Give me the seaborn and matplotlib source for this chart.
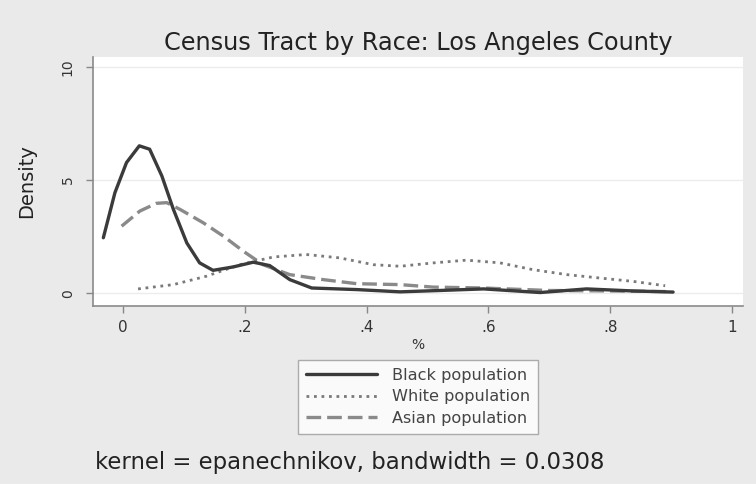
import matplotlib
matplotlib.use('Agg')
import matplotlib.pyplot as plt
from matplotlib.lines import Line2D
import pandas as pd
import seaborn as sns

# values
BLACK_X = [-0.032, -0.013, 0.006, 0.027, 0.044, 0.064, 0.083, 0.105, 0.126, 0.148, 0.181, 0.214,
           0.241, 0.274, 0.310, 0.384, 0.455, 0.520, 0.592, 0.685, 0.761, 0.837, 0.903]
BLACK_Y = [2.45, 4.44, 5.77, 6.51, 6.36, 5.18, 3.70, 2.22, 1.34, 1.01, 1.16, 1.37,
           1.22, 0.60, 0.23, 0.16, 0.06, 0.12, 0.19, 0.03, 0.19, 0.10, 0.05]
WHITE_X = [0.025, 0.083, 0.137, 0.192, 0.247, 0.301, 0.356, 0.411, 0.455, 0.510, 0.564, 0.619,
           0.673, 0.729, 0.783, 0.838, 0.890]
WHITE_Y = [0.19, 0.38, 0.75, 1.26, 1.60, 1.71, 1.56, 1.26, 1.19, 1.34, 1.46, 1.34,
           1.04, 0.82, 0.67, 0.52, 0.33]
ASIAN_X = [-0.002, 0.028, 0.055, 0.072, 0.094, 0.132, 0.165, 0.198, 0.230, 0.274, 0.329, 0.384,
           0.455, 0.509, 0.591, 0.700, 0.800, 0.900]
ASIAN_Y = [2.96, 3.63, 3.97, 4.00, 3.70, 3.11, 2.52, 1.85, 1.26, 0.82, 0.60, 0.42,
           0.38, 0.27, 0.23, 0.12, 0.10, 0.07]
LABELS = ['Black population', 'White population', 'Asian population']
X_TICKS = [0, 0.2, 0.4, 0.6, 0.8, 1]
X_TICKLABELS = ['0', '.2', '.4', '.6', '.8', '1']
Y_TICKS = [0, 5, 10]

sns.set_style('white')
plt.rcParams['font.family'] = ['DejaVu Sans']

BG = '#eaeaea'
fig = plt.figure(figsize=(7.56, 4.84), dpi=100, facecolor=BG)
ax = fig.add_axes([0.123, 0.368, 0.860, 0.515])
ax.set_facecolor('white')

black = pd.DataFrame({'x': BLACK_X, 'y': BLACK_Y})
white = pd.DataFrame({'x': WHITE_X, 'y': WHITE_Y})
asian = pd.DataFrame({'x': ASIAN_X, 'y': ASIAN_Y})

styles = {
    LABELS[0]: dict(color='#3b3b3b', linewidth=2.4, linestyle='-'),
    LABELS[1]: dict(color='#7a7a7a', linewidth=2.0, linestyle=(0, (1, 1.7))),
    LABELS[2]: dict(color='#8a8a8a', linewidth=2.4, linestyle=(0, (4.4, 1.8))),
}

for ys in Y_TICKS:
    ax.axhline(ys, color='#ececec', linewidth=1.0, zorder=0)

sns.lineplot(data=asian, x='x', y='y', ax=ax, sort=False, estimator=None, **styles[LABELS[2]])
sns.lineplot(data=white, x='x', y='y', ax=ax, sort=False, estimator=None, **styles[LABELS[1]])
sns.lineplot(data=black, x='x', y='y', ax=ax, sort=False, estimator=None, **styles[LABELS[0]])

ax.set_xlim(-0.049, 1.018)
ax.set_ylim(-0.56, 10.45)
ax.set_xticks(X_TICKS)
ax.set_xticklabels(X_TICKLABELS)
ax.set_yticks(Y_TICKS)
ax.set_yticklabels([str(v) for v in Y_TICKS], rotation=90, va='center')
ax.tick_params(axis='x', labelsize=11, length=5, width=1, color='#888888', pad=5, labelcolor='#333333')
ax.tick_params(axis='y', labelsize=10, length=5, width=1, color='#888888', pad=8, labelcolor='#333333')
ax.tick_params(bottom=True, left=True)

for side in ['top', 'right']:
    ax.spines[side].set_visible(False)
for side in ['left', 'bottom']:
    ax.spines[side].set_color('#8a8a8a')
    ax.spines[side].set_linewidth(1.2)

ax.set_xlabel('%', fontsize=10, color='#333333', labelpad=2)
ax.set_ylabel('Density', fontsize=14, color='#222222', labelpad=18)
ax.set_title('Census Tract by Race: Los Angeles County', fontsize=17.3, color='#222222', pad=5)

handles = [Line2D([], [], **styles[lab]) for lab in LABELS]
leg = fig.legend(handles, LABELS, loc='center', bbox_to_anchor=(0.553, 0.180), fontsize=11.6,
                 frameon=True, fancybox=False, handlelength=4.4, labelspacing=0.4,
                 borderpad=0.5, handletextpad=0.9)
leg.get_frame().set_edgecolor('#999999')
leg.get_frame().set_facecolor('white')
leg.get_frame().set_linewidth(1.0)
for t in leg.get_texts():
    t.set_color('#444444')

fig.text(0.126, 0.045, 'kernel = epanechnikov, bandwidth = 0.0308', fontsize=16.4,
         color='#222222', ha='left', va='center')

fig.savefig('out.png', dpi=100, facecolor=BG)
